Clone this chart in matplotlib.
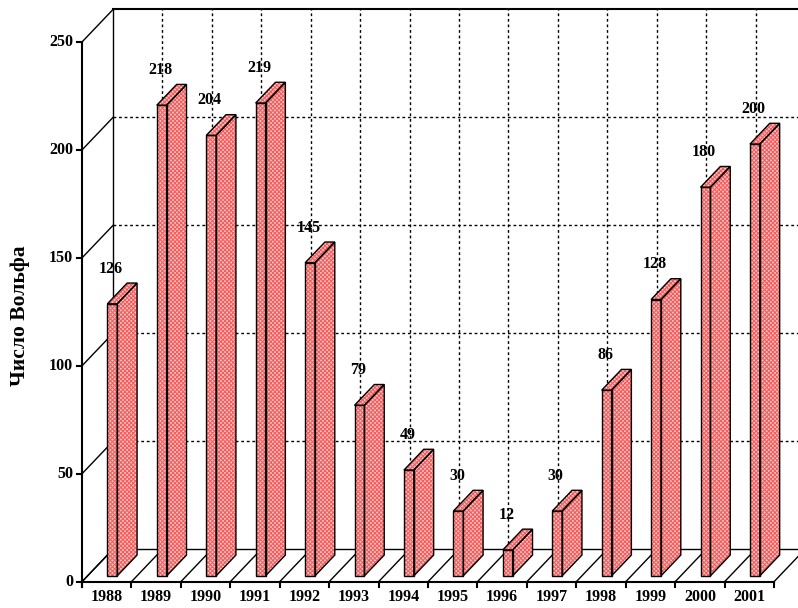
import matplotlib.pyplot as plt
from matplotlib.patches import Polygon

plt.rcParams['font.family'] = ['Liberation Serif', 'DejaVu Serif']
plt.rcParams['font.weight'] = 'bold'
plt.rcParams['hatch.linewidth'] = 0.8

years = ['1988', '1989', '1990', '1991', '1992', '1993', '1994',
         '1995', '1996', '1997', '1998', '1999', '2000', '2001']
wolf = [126, 218, 204, 219, 145, 79, 49, 30, 12, 30, 86, 128, 180, 200]
y_ticks = [0, 50, 100, 150, 200, 250]
y_label = 'Число Вольфа'

# псевдо-3D: зсув задньої стінки в одиницях осей
dx, dy = 0.627, 15.05
d0, d1 = 0.18, 0.82     # глибина стовпчика (частки від dx, dy)
bw = 0.2                # ширина стовпчика
ymax = y_ticks[-1]
n = len(years)

fig = plt.figure(figsize=(7.98, 6.08), dpi=100)
ax = fig.add_axes([0, 0, 1, 1])
ax.set_xlim(-1.659, 14.485)
ax.set_ylim(-12.18, 269.45)
ax.axis('off')

line = dict(color='black', lw=1.0, zorder=1)
grid = dict(color='black', lw=1.0, ls=(0, (2, 2)), zorder=2)

# підлога
ax.plot([0, n], [0, 0], color='black', lw=1.5, zorder=1)
ax.plot([dx, n + dx], [dy, dy], **line)
for k in range(n + 1):
    ax.plot([k, k + dx], [0, dy], **line)
    ax.plot([k, k], [0, -2.3], color='black', lw=1.5, zorder=1)

# задня стінка
ax.plot([dx, dx], [dy, ymax + dy], **line)
ax.plot([dx, n + dx], [ymax + dy, ymax + dy], color='black', lw=1.5, zorder=1)
for v in y_ticks[1:-1]:
    ax.plot([dx, n + dx], [v + dy, v + dy], **grid)
for k in range(1, n + 1):
    ax.plot([k + dx, k + dx], [dy, ymax + dy], **grid)

# вісь Y
ax.plot([0, 0], [-2.3, ymax], color='black', lw=1.5, zorder=1)
for v in y_ticks:
    ax.plot([-0.1, 0], [v, v], color='black', lw=1.5, zorder=1)
    ax.plot([0, dx], [v, v + dy], **line)
    ax.text(-0.18, v, str(v), ha='right', va='center', fontsize=11.5,
            fontweight='bold')

ax.text(-1.254, 123, y_label, rotation=90, ha='center', va='center',
        fontsize=15.5, fontweight='bold')

# стовпчики
def face(pts):
    ax.add_patch(Polygon(pts, closed=True, facecolor='#ffc4c4',
                         edgecolor='#f25f5f', hatch='xxxxxxxx', lw=0,
                         zorder=3))
    ax.add_patch(Polygon(pts, closed=True, fill=False, edgecolor='black',
                         lw=1.0, zorder=4))


for i, v in enumerate(wolf):
    x0 = i + 0.5 - bw / 2 + d0 * dx
    x1 = x0 + bw
    y0 = d0 * dy
    y1 = v + d0 * dy
    ox = (d1 - d0) * dx
    oy = (d1 - d0) * dy
    face([(x0, y0), (x1, y0), (x1, y1), (x0, y1)])
    face([(x1, y0), (x1 + ox, y0 + oy), (x1 + ox, y1 + oy), (x1, y1)])
    face([(x0, y1), (x1, y1), (x1 + ox, y1 + oy), (x0 + ox, y1 + oy)])
    ax.text(i + 0.47 + d0 * dx, v + 19, str(v), ha='center', va='center',
            fontsize=11.5, fontweight='bold', zorder=1.5)
    ax.text(i + 0.5, -7.1, years[i], ha='center', va='center',
            fontsize=11.5, fontweight='bold')

fig.savefig('out.png', dpi=100)
